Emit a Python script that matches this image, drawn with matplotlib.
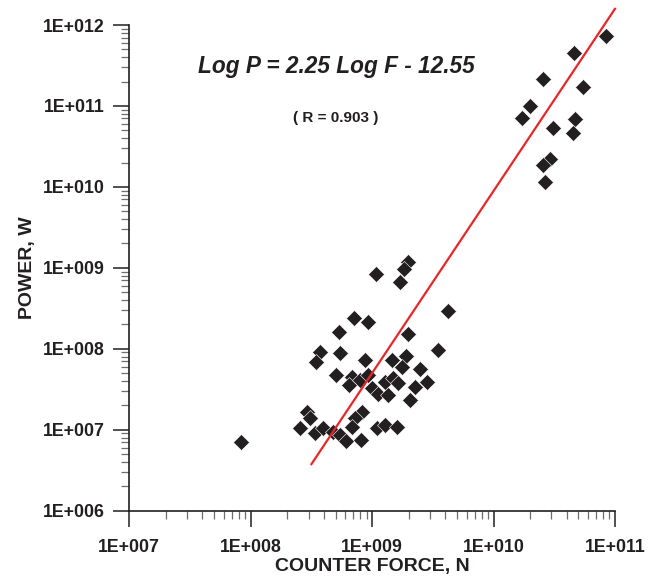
import matplotlib
matplotlib.use("Agg")
import matplotlib.pyplot as plt
import numpy as np
from matplotlib.ticker import LogLocator, NullFormatter, FixedLocator

# Counter force (N) and power (W)
force = [
    8.45e10, 4.6e10, 2.57e10, 5.5e10, 2.0e10, 1.71e10, 4.7e10, 3.08e10, 4.49e10,
    2.92e10, 2.57e10, 2.67e10,
    8.3e7, 2.89e8, 3.08e8, 2.55e8, 3.39e8, 3.97e8, 4.79e8, 5.44e8, 6.1e8,
    8.2e8, 7.2e8, 6.8e8, 8.1e8, 1.10e9, 1.28e9, 1.60e9,
    8.7e8, 1.46e9, 1.90e9, 6.8e8, 6.4e8, 7.9e8, 9.2e8, 9.9e8, 1.28e9, 1.49e9,
    1.12e9, 1.36e9, 1.75e9, 2.48e9, 2.82e9, 1.64e9, 2.25e9, 2.05e9,
    1.99e9, 3.47e9, 4.2e9, 1.08e9, 1.98e9, 1.83e9, 1.70e9,
    7.1e8, 9.3e8, 5.33e8, 3.72e8, 3.45e8, 5.45e8, 5.05e8,
]
power = [
    7.3e11, 4.47e11, 2.15e11, 1.73e11, 1.0e11, 7.2e10, 6.97e10, 5.3e10, 4.6e10,
    2.19e10, 1.86e10, 1.16e10,
    7.1e6, 1.67e7, 1.39e7, 1.04e7, 9.0e6, 1.04e7, 9.5e6, 8.6e6, 7.3e6,
    1.67e7, 1.39e7, 1.09e7, 7.5e6, 1.04e7, 1.15e7, 1.09e7,
    7.3e7, 7.3e7, 8.1e7, 4.5e7, 3.6e7, 4.1e7, 4.7e7, 3.25e7, 3.9e7, 4.4e7,
    2.8e7, 2.7e7, 6.0e7, 5.7e7, 3.9e7, 3.75e7, 3.4e7, 2.33e7,
    1.52e8, 9.7e7, 2.93e8, 8.4e8, 1.18e9, 9.7e8, 6.7e8,
    2.38e8, 2.16e8, 1.61e8, 9.2e7, 6.9e7, 8.8e7, 4.7e7,
]

# Regression: Log P = 2.25 Log F - 12.55
slope = 2.25
intercept = -12.55
fit_force = [10**8.5, 1e11]

x_ticks = [1e7, 1e8, 1e9, 1e10, 1e11]
x_labels = ["1E+007", "1E+008", "1E+009", "1E+010", "1E+011"]
y_ticks = [1e6, 1e7, 1e8, 1e9, 1e10, 1e11, 1e12]
y_labels = ["1E+006", "1E+007", "1E+008", "1E+009", "1E+010", "1E+011", "1E+012"]

ink = "#231f20"
plt.rcParams["font.family"] = ["Liberation Sans", "DejaVu Sans"]

fig = plt.figure(figsize=(6.59, 5.79), dpi=100)
ax = fig.add_axes([0.1962, 0.118, 0.737, 0.8388])

ax.set_xscale("log")
ax.set_yscale("log")
ax.set_xlim(1e7, 1e11)
ax.set_ylim(1e6, 1e12)

ax.plot(force, power, linestyle="none", marker="D", markersize=8.2,
        markerfacecolor=ink, markeredgecolor="white", markeredgewidth=0.4,
        zorder=3)

fit_power = [10**(slope*np.log10(f) + intercept) for f in fit_force]
ax.plot(fit_force, fit_power, color="#e8262a", linewidth=1.6, clip_on=False,
        zorder=4)

for s in ["top", "right"]:
    ax.spines[s].set_visible(False)
for s in ["left", "bottom"]:
    ax.spines[s].set_linewidth(1.2)
    ax.spines[s].set_color(ink)

ax.xaxis.set_major_locator(FixedLocator(x_ticks))
ax.set_xticklabels(x_labels)
ax.yaxis.set_major_locator(FixedLocator(y_ticks))
ax.set_yticklabels(y_labels)
ax.xaxis.set_minor_locator(LogLocator(base=10, subs=np.arange(2, 10)))
ax.yaxis.set_minor_locator(LogLocator(base=10, subs=np.arange(2, 10)))
ax.xaxis.set_minor_formatter(NullFormatter())
ax.yaxis.set_minor_formatter(NullFormatter())

ax.tick_params(which="major", direction="out", length=11.5, width=1.1,
               color=ink, labelsize=12.8, labelcolor=ink)
ax.tick_params(axis="y", which="major", pad=6)
ax.tick_params(axis="x", which="major", pad=9)
ax.tick_params(which="minor", direction="out", length=5.5, width=0.9,
               color="#6d6e70")
for lab in ax.get_xticklabels() + ax.get_yticklabels():
    lab.set_fontweight("bold")

ax.set_xlabel("COUNTER FORCE, N", fontsize=14, fontweight="bold", color=ink,
              labelpad=1)
ax.set_ylabel("POWER, W", fontsize=14, fontweight="bold", color=ink,
              labelpad=5)

ax.text(0.4265, 0.915, "Log P = 2.25 Log F - 12.55", transform=ax.transAxes,
        fontsize=16.3, fontweight="bold", fontstyle="italic", color=ink,
        ha="center", va="center")
ax.text(0.4256, 0.808, "( R = 0.903 )", transform=ax.transAxes,
        fontsize=11, fontweight="bold", color=ink, ha="center", va="center")

fig.savefig("out.png", dpi=100)
